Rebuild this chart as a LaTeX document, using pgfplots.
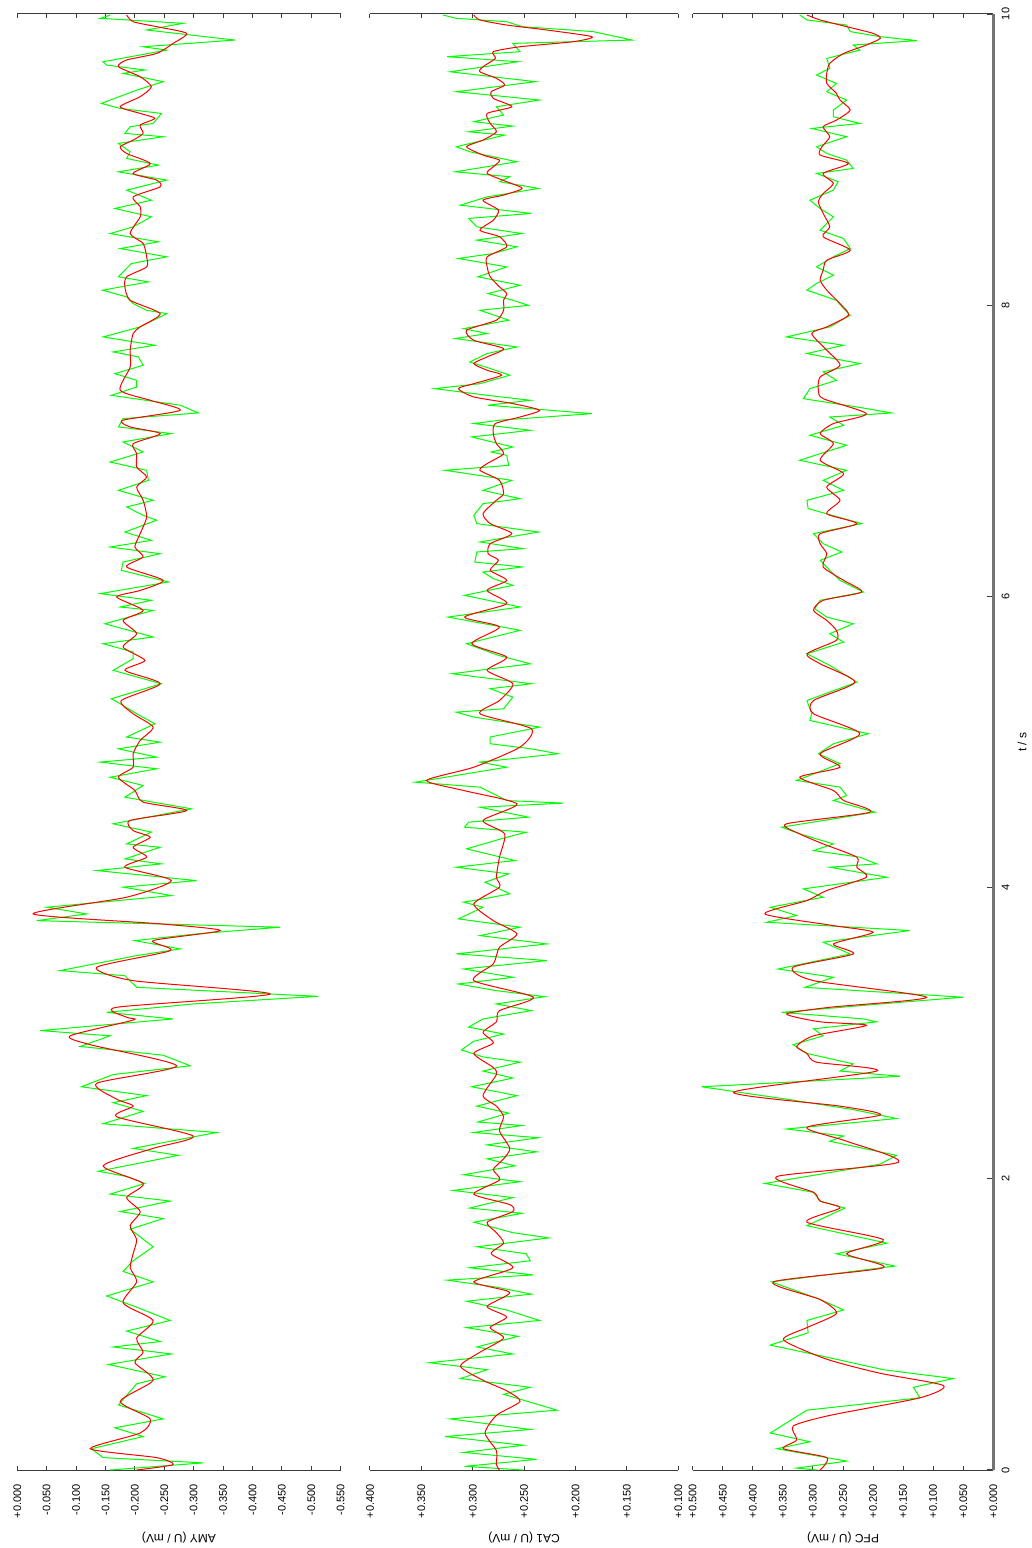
\documentclass[border=0pt]{standalone}
\usepackage{fontspec}
\setmainfont{Liberation Sans}
\usepackage{pgfplots}
\pgfplotsset{compat=1.18}
\definecolor{sig}{RGB}{0,255,0}
\definecolor{flt}{RGB}{255,0,0}
\definecolor{axc}{RGB}{60,60,60}
\pgfplotsset{
  panel/.style={
    scale only axis, height=728pt,
    ymin=0, ymax=10, x dir=reverse,
    axis x line=box, axis y line=none, ytick=\empty,
    anchor=south west,
    tick align=inside, major tick length=2pt,
    axis line style={axc, line width=0.5pt},
    every tick/.append style={axc, line width=0.5pt},
    xticklabel style={font=\fontsize{5.5}{6}\selectfont, rotate=90, anchor=east, inner sep=0pt},
    xticklabel shift=7pt,
    xlabel style={font=\fontsize{6}{7}\selectfont, rotate=180, at={(axis description cs:0.5,-0.042)}, anchor=south, inner sep=0pt},
    no markers,
  },
  gsig/.style={sig, line width=0.5pt, sharp plot},
  rsig/.style={flt, line width=0.5pt, smooth, tension=0.4},
}
\begin{document}
\begin{tikzpicture}
\path (0,0) rectangle (516pt,774pt);
% ---------------- AMY ----------------
\begin{axis}[panel, width=161.7pt, at={(8.65pt,39pt)},
  xmin=-0.55, xmax=0,
  xtick={-0.55,-0.5,-0.45,-0.4,-0.35,-0.3,-0.25,-0.2,-0.15,-0.1,-0.05,0},
  xticklabels={-0.550,-0.500,-0.450,-0.400,-0.350,-0.300,-0.250,-0.200,-0.150,-0.100,-0.050,+0.000},
  xlabel={AMY (U / mV)}]
\addplot[gsig] coordinates {
(-0.158,9.993) (-0.141,9.97) (-0.282,9.936) (-0.220,9.89) (-0.370,9.821) (-0.214,9.775) (-0.254,9.752) (-0.146,9.672) (-0.152,9.649) (-0.217,9.615) (-0.180,9.592) (-0.248,9.535) (-0.203,9.477) (-0.143,9.386) (-0.175,9.351) (-0.245,9.317) (-0.231,9.248) (-0.192,9.226) (-0.183,9.18) (-0.248,9.157) (-0.172,9.111) (-0.192,9.054) (-0.186,9.008) (-0.240,8.962) (-0.172,8.916) (-0.254,8.859) (-0.186,8.79) (-0.228,8.721) (-0.166,8.664) (-0.228,8.607) (-0.197,8.538) (-0.158,8.492) (-0.240,8.435) (-0.175,8.389) (-0.254,8.332) (-0.194,8.286) (-0.172,8.195) (-0.223,8.16) (-0.145,8.103) (-0.186,8.057) (-0.197,8.011) (-0.220,7.965) (-0.254,7.942) (-0.209,7.851) (-0.146,7.782) (-0.234,7.725) (-0.163,7.679) (-0.206,7.645) (-0.214,7.587) (-0.166,7.53) (-0.203,7.484) (-0.203,7.438) (-0.160,7.381) (-0.277,7.313) (-0.308,7.26) (-0.180,7.221) (-0.172,7.164) (-0.262,7.118) (-0.180,7.061) (-0.214,6.992) (-0.158,6.923) (-0.220,6.866) (-0.223,6.797) (-0.172,6.728) (-0.231,6.66)
(-0.186,6.614) (-0.214,6.557) (-0.237,6.523) (-0.183,6.442) (-0.228,6.385) (-0.158,6.339) (-0.243,6.293) (-0.180,6.236) (-0.177,6.179) (-0.257,6.099) (-0.141,6.019) (-0.228,5.973) (-0.175,5.927) (-0.231,5.904) (-0.149,5.812) (-0.231,5.721) (-0.146,5.675) (-0.197,5.618) (-0.197,5.572) (-0.163,5.492) (-0.245,5.4) (-0.160,5.297) (-0.175,5.263) (-0.203,5.194) (-0.234,5.125) (-0.186,5.034) (-0.243,4.999) (-0.172,4.953) (-0.237,4.896) (-0.141,4.862) (-0.237,4.816) (-0.158,4.758) (-0.214,4.701) (-0.183,4.621) (-0.296,4.541) (-0.163,4.438) (-0.228,4.381) (-0.186,4.3) (-0.243,4.277) (-0.183,4.197) (-0.245,4.163) (-0.135,4.117) (-0.305,4.048) (-0.180,4.003) (-0.262,3.945) (-0.050,3.865) (-0.118,3.819) (-0.033,3.773) (-0.447,3.728) (-0.305,3.682) (-0.200,3.636) (-0.277,3.579) (-0.203,3.533) (-0.073,3.43) (-0.183,3.395) (-0.203,3.315) (-0.512,3.253) (-0.299,3.201) (-0.152,3.143) (-0.265,3.098)
(-0.039,3.018) (-0.158,2.982) (-0.107,2.909) (-0.248,2.849) (-0.294,2.776) (-0.163,2.716) (-0.109,2.632) (-0.220,2.571) (-0.163,2.523) (-0.214,2.463) (-0.146,2.378) (-0.339,2.318) (-0.197,2.209) (-0.274,2.161) (-0.138,2.052) (-0.186,2.016) (-0.217,1.968) (-0.158,1.895) (-0.260,1.847) (-0.175,1.775) (-0.248,1.727) (-0.192,1.654) (-0.231,1.533) (-0.197,1.437) (-0.180,1.364) (-0.231,1.292) (-0.152,1.195) (-0.200,1.123) (-0.260,1.027) (-0.186,0.954) (-0.243,0.882) (-0.163,0.845) (-0.262,0.797) (-0.155,0.725) (-0.251,0.64) (-0.203,0.592) (-0.172,0.447) (-0.248,0.351) (-0.166,0.29) (-0.214,0.23) (-0.126,0.146) (-0.146,0.085) (-0.316,0.049) (-0.158,0.0)
};
\addplot[rsig] coordinates {
(-0.186,9.993) (-0.197,9.947) (-0.237,9.913) (-0.288,9.867) (-0.265,9.798) (-0.237,9.729) (-0.186,9.684) (-0.172,9.638) (-0.209,9.569) (-0.228,9.5) (-0.209,9.432) (-0.175,9.363) (-0.209,9.317) (-0.234,9.283) (-0.209,9.237) (-0.214,9.18) (-0.197,9.134) (-0.175,9.088) (-0.186,9.042) (-0.226,8.973) (-0.197,8.905) (-0.237,8.859) (-0.243,8.813) (-0.197,8.744) (-0.209,8.676) (-0.209,8.607) (-0.192,8.492) (-0.214,8.424) (-0.220,8.332) (-0.220,8.263) (-0.186,8.195) (-0.183,8.126) (-0.192,8.034) (-0.243,7.942) (-0.209,7.851) (-0.197,7.805) (-0.192,7.691) (-0.192,7.576) (-0.175,7.416) (-0.226,7.347) (-0.277,7.278) (-0.180,7.21) (-0.192,7.164) (-0.243,7.118) (-0.197,7.049) (-0.203,6.98) (-0.203,6.889) (-0.220,6.82) (-0.203,6.751) (-0.214,6.66)
(-0.220,6.545) (-0.209,6.431) (-0.200,6.339) (-0.214,6.271) (-0.186,6.202) (-0.248,6.11) (-0.209,6.041) (-0.169,5.996) (-0.214,5.904) (-0.180,5.835) (-0.203,5.744) (-0.180,5.652) (-0.217,5.56) (-0.183,5.492) (-0.243,5.4) (-0.177,5.285) (-0.197,5.194) (-0.231,5.102) (-0.209,5.011) (-0.197,4.919) (-0.197,4.827) (-0.172,4.758) (-0.200,4.667) (-0.214,4.587) (-0.288,4.529) (-0.192,4.461) (-0.197,4.392) (-0.226,4.346) (-0.197,4.277) (-0.220,4.209) (-0.183,4.14) (-0.262,4.048) (-0.186,3.934) (-0.027,3.819) (-0.243,3.751) (-0.345,3.705) (-0.231,3.636) (-0.260,3.567) (-0.135,3.453) (-0.197,3.361) (-0.430,3.269) (-0.169,3.178) (-0.186,3.109)
(-0.197,3.09) (-0.090,2.982) (-0.124,2.921) (-0.271,2.776) (-0.135,2.656) (-0.169,2.547) (-0.197,2.499) (-0.169,2.426) (-0.299,2.294) (-0.231,2.209) (-0.146,2.089) (-0.214,1.968) (-0.186,1.871) (-0.209,1.775) (-0.192,1.678) (-0.203,1.582) (-0.197,1.485) (-0.192,1.389) (-0.203,1.292) (-0.180,1.147) (-0.231,1.027) (-0.203,0.906) (-0.214,0.809) (-0.200,0.737) (-0.231,0.616) (-0.175,0.471) (-0.226,0.351) (-0.209,0.254) (-0.124,0.146) (-0.237,0.085) (-0.265,0.037) (-0.203,0.0)
};
\end{axis}
% ---------------- CA1 ----------------
\begin{axis}[panel, width=154.15pt, at={(185pt,39pt)},
  xmin=0.1, xmax=0.4,
  xtick={0.1,0.15,0.2,0.25,0.3,0.35,0.4},
  xticklabels={+0.100,+0.150,+0.200,+0.250,+0.300,+0.350,+0.400},
  xlabel={CA1 (U / mV)}]
\addplot[gsig] coordinates {
(0.329,9.993) (0.316,9.97) (0.267,9.947) (0.252,9.913) (0.183,9.879) (0.145,9.821) (0.261,9.798) (0.254,9.741) (0.325,9.707) (0.256,9.672) (0.322,9.603) (0.239,9.535) (0.316,9.466) (0.235,9.409) (0.277,9.363) (0.270,9.306) (0.299,9.26) (0.261,9.23) (0.304,9.191) (0.269,9.168) (0.316,9.088) (0.303,9.054) (0.257,8.985) (0.317,8.916) (0.264,8.882) (0.274,8.848) (0.236,8.802) (0.286,8.744) (0.312,8.687) (0.243,8.63) (0.304,8.596) (0.296,8.538) (0.252,8.492) (0.296,8.447) (0.257,8.401) (0.280,8.355) (0.314,8.321) (0.267,8.263) (0.295,8.195) (0.254,8.137) (0.285,8.08) (0.261,8.034) (0.246,7.999) (0.293,7.965) (0.265,7.897) (0.309,7.839) (0.286,7.805) (0.317,7.771) (0.257,7.713) (0.286,7.668) (0.303,7.61) (0.283,7.565) (0.264,7.519) (0.293,7.461) (0.337,7.427) (0.286,7.381) (0.244,7.347) (0.285,7.313) (0.184,7.255) (0.274,7.21) (0.299,7.187) (0.244,7.141) (0.301,7.095) (0.261,7.026) (0.282,6.992) (0.267,6.969) (0.265,6.9) (0.327,6.866) (0.262,6.797) (0.290,6.728) (0.254,6.671)
(0.290,6.637) (0.299,6.557) (0.296,6.5) (0.236,6.442) (0.293,6.374) (0.251,6.328) (0.296,6.305) (0.298,6.236) (0.252,6.202) (0.290,6.167) (0.280,6.122) (0.261,6.076) (0.308,6.007) (0.254,5.927) (0.324,5.858) (0.254,5.767) (0.306,5.675) (0.275,5.595) (0.244,5.537) (0.320,5.469) (0.243,5.4) (0.283,5.366) (0.261,5.308) (0.270,5.228) (0.316,5.205) (0.299,5.171) (0.235,5.102) (0.283,5.034) (0.283,4.988) (0.243,4.953) (0.217,4.919) (0.293,4.862) (0.267,4.827) (0.356,4.724) (0.293,4.690) (0.267,4.598) (0.212,4.58) (0.293,4.552) (0.246,4.484) (0.304,4.449) (0.308,4.415) (0.248,4.38) (0.267,4.346) (0.306,4.266) (0.259,4.186) (0.316,4.14) (0.265,4.094) (0.288,4.037) (0.274,3.991) (0.264,3.957) (0.290,3.922) (0.309,3.9) (0.290,3.865) (0.314,3.785) (0.254,3.728) (0.293,3.67) (0.228,3.613) (0.316,3.545) (0.228,3.499) (0.309,3.441) (0.261,3.384) (0.314,3.338) (0.277,3.292) (0.230,3.251) (0.277,3.201) (0.243,3.155) (0.290,3.098)
(0.304,3.042) (0.270,2.994) (0.299,2.945) (0.311,2.885) (0.290,2.837) (0.254,2.801) (0.290,2.74) (0.261,2.692) (0.301,2.632) (0.257,2.571) (0.296,2.499) (0.265,2.451) (0.295,2.39) (0.252,2.366) (0.299,2.318) (0.236,2.282) (0.286,2.233) (0.238,2.185) (0.286,2.137) (0.259,2.089) (0.309,2.028) (0.254,1.98) (0.319,1.92) (0.261,1.871) (0.303,1.799) (0.252,1.763) (0.299,1.702) (0.261,1.63) (0.226,1.594) (0.296,1.533) (0.248,1.485) (0.244,1.437) (0.303,1.389) (0.241,1.34) (0.325,1.304) (0.277,1.256) (0.243,1.208) (0.306,1.159) (0.267,1.099) (0.235,1.027) (0.306,0.978) (0.256,0.918) (0.296,0.845) (0.261,0.797) (0.342,0.737) (0.286,0.689) (0.312,0.628) (0.244,0.568) (0.270,0.52) (0.218,0.411) (0.322,0.351) (0.244,0.278) (0.327,0.23) (0.251,0.17) (0.309,0.121) (0.238,0.073) (0.308,0.025) (0.251,0.0)
};
\addplot[rsig] coordinates {
(0.299,9.993) (0.293,9.959) (0.267,9.924) (0.228,9.89) (0.184,9.844) (0.202,9.810) (0.254,9.775) (0.280,9.741) (0.278,9.695) (0.290,9.638) (0.293,9.603) (0.277,9.558) (0.269,9.512) (0.282,9.466) (0.280,9.42) (0.262,9.363) (0.286,9.317) (0.283,9.248) (0.277,9.191) (0.290,9.134) (0.306,9.088) (0.290,9.031) (0.274,8.996) (0.280,8.951) (0.286,8.905) (0.267,8.848) (0.252,8.802) (0.270,8.756) (0.290,8.721) (0.275,8.653) (0.280,8.584) (0.293,8.515) (0.274,8.47) (0.267,8.401) (0.286,8.332) (0.286,8.263) (0.283,8.195) (0.274,8.126) (0.267,8.08) (0.270,8.034) (0.270,7.965) (0.277,7.897) (0.306,7.828) (0.299,7.759) (0.270,7.702) (0.286,7.645) (0.299,7.599) (0.286,7.553) (0.272,7.519) (0.299,7.461) (0.314,7.427) (0.299,7.37) (0.261,7.324) (0.235,7.278) (0.254,7.232) (0.278,7.187) (0.280,7.118) (0.277,7.049) (0.270,6.98) (0.286,6.912) (0.293,6.866) (0.274,6.797) (0.270,6.705) (0.277,6.66)
(0.290,6.568) (0.283,6.5) (0.262,6.431) (0.283,6.362) (0.285,6.293) (0.275,6.248) (0.283,6.179) (0.267,6.11) (0.286,6.041) (0.267,5.95) (0.308,5.858) (0.274,5.79) (0.301,5.675) (0.267,5.583) (0.286,5.492) (0.261,5.4) (0.274,5.285) (0.293,5.194) (0.243,5.091) (0.254,4.965) (0.299,4.827) (0.345,4.736) (0.309,4.667) (0.257,4.575) (0.290,4.461) (0.269,4.369) (0.274,4.209) (0.277,4.071) (0.274,4.003) (0.299,3.888) (0.280,3.773) (0.257,3.682) (0.274,3.59) (0.280,3.476) (0.299,3.361) (0.241,3.247) (0.274,3.155)
(0.277,3.078) (0.290,3.006) (0.280,2.933) (0.299,2.861) (0.280,2.764) (0.277,2.716) (0.290,2.571) (0.277,2.499) (0.270,2.426) (0.274,2.33) (0.264,2.209) (0.270,2.137) (0.280,2.064) (0.274,1.992) (0.299,1.895) (0.264,1.823) (0.261,1.775) (0.286,1.702) (0.277,1.63) (0.270,1.558) (0.282,1.485) (0.261,1.389) (0.299,1.292) (0.264,1.22) (0.286,1.123) (0.267,1.051) (0.283,0.978) (0.270,0.906) (0.293,0.809) (0.312,0.713) (0.290,0.616) (0.267,0.544) (0.254,0.471) (0.277,0.375) (0.288,0.254) (0.277,0.133) (0.277,0.037) (0.274,0.0)
};
\end{axis}
% ---------------- PFC ----------------
\begin{axis}[panel, width=150.3pt, at={(346.35pt,39pt)},
  xmin=0, xmax=0.5,
  xtick={0,0.05,0.1,0.15,0.2,0.25,0.3,0.35,0.4,0.45,0.5},
  xticklabels={+0.000,+0.050,+0.100,+0.150,+0.200,+0.250,+0.300,+0.350,+0.400,+0.450,+0.500},
  xlabel={PFC (U / mV)}]
\addplot[gsig] coordinates {
(0.322,9.993) (0.310,9.959) (0.244,9.924) (0.238,9.879) (0.188,9.844) (0.127,9.817) (0.233,9.787) (0.222,9.752) (0.277,9.695) (0.272,9.626) (0.294,9.581) (0.261,9.523) (0.277,9.466) (0.244,9.409) (0.266,9.34) (0.266,9.294) (0.222,9.248) (0.302,9.214) (0.244,9.157) (0.294,9.088) (0.277,9.042) (0.244,8.996) (0.233,8.939) (0.294,8.905) (0.258,8.848) (0.266,8.79) (0.305,8.721) (0.288,8.664) (0.266,8.607) (0.288,8.515) (0.249,8.458) (0.238,8.389) (0.266,8.332) (0.294,8.263) (0.266,8.206) (0.294,8.149) (0.310,8.103) (0.261,8.034) (0.249,7.977) (0.238,7.931) (0.272,7.851) (0.344,7.782) (0.249,7.725) (0.310,7.668) (0.222,7.599) (0.283,7.542) (0.261,7.484) (0.305,7.427) (0.316,7.358) (0.227,7.301) (0.169,7.26) (0.272,7.232) (0.249,7.175) (0.305,7.107) (0.244,7.038) (0.322,6.935) (0.244,6.866) (0.283,6.797) (0.249,6.728) (0.310,6.66)
(0.308,6.603) (0.219,6.5) (0.299,6.431) (0.283,6.362) (0.252,6.305) (0.288,6.248) (0.272,6.179) (0.255,6.11) (0.216,6.03) (0.288,5.973) (0.297,5.915) (0.277,5.858) (0.233,5.812) (0.272,5.744) (0.249,5.686) (0.310,5.606) (0.272,5.526) (0.227,5.411) (0.310,5.285) (0.302,5.194) (0.305,5.148) (0.208,5.057) (0.266,4.988) (0.291,4.919) (0.255,4.851) (0.327,4.736) (0.255,4.69) (0.244,4.632) (0.266,4.598) (0.197,4.518) (0.352,4.415) (0.322,4.369) (0.266,4.3) (0.299,4.254) (0.222,4.209) (0.194,4.163) (0.272,4.14) (0.177,4.071) (0.316,3.991) (0.283,3.934) (0.371,3.865) (0.327,3.808) (0.377,3.762) (0.139,3.705) (0.283,3.625) (0.238,3.544) (0.358,3.441) (0.266,3.384) (0.313,3.315) (0.050,3.247) (0.188,3.201) (0.352,3.143) (0.216,3.098)
(0.194,3.078) (0.299,3.03) (0.283,2.982) (0.333,2.921) (0.310,2.861) (0.233,2.789) (0.255,2.74) (0.155,2.704) (0.485,2.632) (0.344,2.547) (0.233,2.475) (0.161,2.414) (0.344,2.342) (0.249,2.294) (0.272,2.258) (0.161,2.161) (0.188,2.101) (0.380,1.968) (0.299,1.907) (0.288,1.847) (0.247,1.799) (0.310,1.678) (0.177,1.558) (0.261,1.485) (0.164,1.401) (0.369,1.292) (0.288,1.171) (0.249,1.099) (0.310,1.027) (0.308,0.942) (0.371,0.858) (0.288,0.785) (0.183,0.689) (0.067,0.628) (0.133,0.568) (0.122,0.496) (0.310,0.411) (0.338,0.339) (0.371,0.254) (0.305,0.194) (0.360,0.146) (0.244,0.061) (0.327,0.013) (0.294,0.0)
};
\addplot[rsig] coordinates {
(0.310,9.993) (0.288,9.959) (0.244,9.913) (0.200,9.867) (0.188,9.833) (0.211,9.787) (0.249,9.729) (0.272,9.661) (0.277,9.592) (0.277,9.523) (0.261,9.455) (0.255,9.409) (0.238,9.34) (0.261,9.271) (0.283,9.226) (0.272,9.157) (0.285,9.088) (0.288,9.031) (0.241,8.973) (0.283,8.905) (0.266,8.836) (0.283,8.767) (0.291,8.71) (0.283,8.63) (0.272,8.538) (0.283,8.47) (0.238,8.378) (0.277,8.309) (0.283,8.24) (0.288,8.172) (0.277,8.103) (0.255,8.011) (0.241,7.931) (0.277,7.851) (0.302,7.805) (0.277,7.691) (0.255,7.587) (0.288,7.507) (0.291,7.416) (0.283,7.358) (0.211,7.255) (0.266,7.187) (0.288,7.118) (0.266,7.049) (0.288,6.935) (0.249,6.843) (0.277,6.751) (0.255,6.66)
(0.277,6.568) (0.227,6.5) (0.288,6.431) (0.288,6.362) (0.277,6.293) (0.283,6.202) (0.249,6.11) (0.219,6.03) (0.283,5.973) (0.299,5.904) (0.277,5.835) (0.261,5.767) (0.261,5.698) (0.310,5.606) (0.288,5.537) (0.230,5.411) (0.299,5.285) (0.299,5.194) (0.222,5.057) (0.288,4.919) (0.255,4.827) (0.322,4.758) (0.266,4.667) (0.249,4.598) (0.205,4.518) (0.344,4.438) (0.322,4.369) (0.283,4.3) (0.227,4.209) (0.227,4.14) (0.211,4.071) (0.277,3.98) (0.310,3.911) (0.380,3.819) (0.266,3.739) (0.200,3.693) (0.266,3.613) (0.233,3.544) (0.333,3.453) (0.299,3.361) (0.111,3.247) (0.272,3.178) (0.344,3.132)
(0.288,3.078) (0.211,3.054) (0.299,2.982) (0.327,2.909) (0.310,2.861) (0.294,2.801) (0.194,2.74) (0.432,2.595) (0.255,2.499) (0.188,2.438) (0.310,2.354) (0.244,2.258) (0.158,2.113) (0.360,2.016) (0.299,1.907) (0.288,1.847) (0.255,1.799) (0.310,1.702) (0.183,1.582) (0.244,1.485) (0.183,1.389) (0.366,1.292) (0.288,1.171) (0.261,1.075) (0.310,0.978) (0.349,0.894) (0.277,0.761) (0.188,0.664) (0.083,0.58) (0.122,0.496) (0.272,0.375) (0.333,0.302) (0.327,0.206) (0.349,0.146) (0.277,0.085) (0.288,0.0)
};
\end{axis}
% ---------------- time axis ----------------
\begin{axis}[scale only axis, width=150.3pt, height=728pt,
  at={(346.35pt,39pt)}, anchor=south west,
  xmin=0, xmax=1, ymin=0, ymax=10,
  axis x line=none, axis y line=right,
  axis line style={-},
  y axis line style={-, line width=1.2pt, black!55},
  ytick={0,2,4,6,8,10}, yticklabels={0,2,4,6,8,10},
  tick align=inside, major tick length=3pt,
  every tick/.append style={axc, line width=0.6pt},
  yticklabel style={font=\fontsize{5.5}{6}\selectfont, rotate=90, anchor=north, inner sep=0pt},
  yticklabel shift=4pt,
  ylabel={t / s},
  ylabel style={font=\fontsize{6}{7}\selectfont, at={(axis description cs:1.08,0.5)}, anchor=north, inner sep=0pt}]
\end{axis}
\end{tikzpicture}
\end{document}
